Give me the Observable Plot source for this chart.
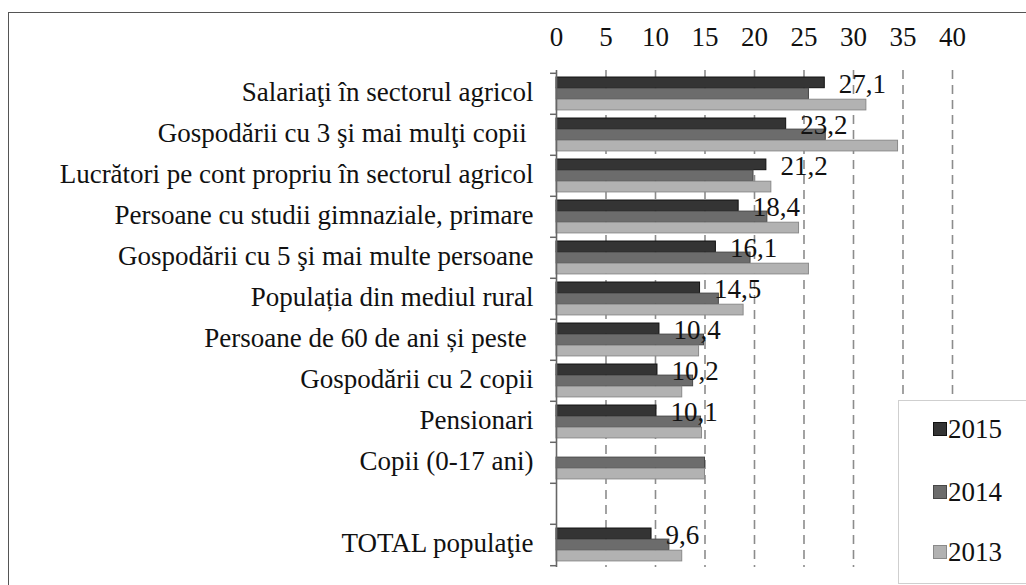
<!DOCTYPE html>
<html><head><meta charset="utf-8">
<script src="https://cdn.jsdelivr.net/npm/d3@7"></script>
<script src="https://cdn.jsdelivr.net/npm/@observablehq/plot@0.6"></script>
<style>
html,body{margin:0;padding:0;background:#fff;}
#wrap{position:relative;width:1026px;height:585px;overflow:hidden;font-family:'Liberation Serif',serif;color:#111;}
#chart{position:absolute;left:0;top:0;}
#chart svg, #chart svg text{font-family:'Liberation Serif',serif !important;}
#chart svg{overflow:visible;background:transparent;}
#frame{position:absolute;left:8px;top:12px;width:1100px;height:700px;border-left:1.5px solid #555;border-top:1.5px solid #555;}
#legend{position:absolute;left:898px;top:400px;width:140px;height:182px;background:#fff;border:1px solid #cfcfcf;font-family:'Liberation Serif',serif;}
.item{position:absolute;left:34px;height:30px;font-size:27px;line-height:30px;display:flex;align-items:center;font-family:'Liberation Serif',serif;color:#111;}
.sw{width:14px;height:14px;margin-right:1px;box-sizing:border-box;}
</style></head>
<body><div id="wrap"><div id="frame"></div><div id="chart"></div><div id="legend"></div></div>
<script>
const categories = [
  "Salariaţi în sectorul agricol",
  "Gospodării cu 3 şi mai mulţi copii\u00a0",
  "Lucrători pe cont propriu în sectorul agricol",
  "Persoane cu studii gimnaziale, primare",
  "Gospodării cu 5 şi mai multe persoane",
  "Populația din mediul rural",
  "Persoane de 60 de ani și peste\u00a0",
  "Gospodării cu 2 copii",
  "Pensionari",
  "Copii (0-17 ani)",
  "\u00a0",
  "TOTAL populaţie"
];
const years = ["2015", "2014", "2013"];
const v2015 = [27.1, 23.2, 21.2, 18.4, 16.1, 14.5, 10.4, 10.2, 10.1, null, null, 9.6];
const v2014 = [25.5, 27.2, 19.9, 21.3, 19.6, 16.4, 14.9, 13.8, 14.6, 15.0, null, 11.4];
const v2013 = [31.3, 34.5, 21.7, 24.5, 25.5, 18.9, 14.4, 12.7, 14.7, 15.0, null, 12.7];
const xTicks = [0, 5, 10, 15, 20, 25, 30, 35, 40];

const fills = {"2015": "#343434", "2014": "#6c6c6c", "2013": "#b2b2b2"};
const strokes = {"2015": "#111", "2014": "#474747", "2013": "#8a8a8a"};

const W = 1026, H = 585, mt = 70, mb = 18, ml = 556, mr = 74;
const step = (H - mt - mb) / categories.length;
const off = step * 0.097, bh = step * 0.268;
const FS = 27;

function rowsOf(vals, year) {
  return categories.map((c, i) => ({category: c, value: vals[i], year})).filter(d => d.value != null);
}
const series = {"2015": rowsOf(v2015, "2015"), "2014": rowsOf(v2014, "2014"), "2013": rowsOf(v2013, "2013")};

const barMarks = years.map((yr, k) => Plot.barX(series[yr], {
  x: "value", y: "category",
  fill: fills[yr], stroke: strokes[yr], strokeWidth: 1,
  insetTop: off + k * bh,
  insetBottom: step - off - (k + 1) * bh
}));

const fmt = v => v.toFixed(1).replace(".", ",");

const chart = Plot.plot({
  width: W, height: H,
  marginTop: mt, marginBottom: mb, marginLeft: ml, marginRight: mr,
  style: "font-family:'Liberation Serif',serif;font-size:27px;color:#111;background:transparent;overflow:visible;",
  x: {domain: [0, 40], label: null},
  y: {domain: categories, padding: 0, label: null},
  marks: [
    Plot.ruleX(xTicks.filter(t => t > 0), {stroke: "#8c8c8c", strokeWidth: 1.6, strokeDasharray: "9,6"}),
    ...barMarks,
    Plot.ruleX([0], {stroke: "#666", strokeWidth: 1.6}),
    Plot.ruleY(categories, {y: d => d, x1: -0.6, x2: 0, dy: -step / 2, stroke: "#666", strokeWidth: 1.5}),
    Plot.ruleY([categories[categories.length - 1]], {y: d => d, x1: -0.6, x2: 0, dy: step / 2, stroke: "#666", strokeWidth: 1.5}),
    Plot.text(series["2015"], {
      x: "value", y: "category", text: d => fmt(d.value),
      dx: 14, dy: -10, textAnchor: "start", fontSize: FS, fill: "#111"
    }),
    Plot.axisX({anchor: "top", ticks: xTicks, tickSize: 0, tickPadding: 25, fontSize: FS, label: null, fill: "#111"}),
    Plot.axisY({tickSize: 0, tickPadding: 23, fontSize: FS, label: null, fill: "#111", dy: -2})
  ]
});
document.getElementById("chart").appendChild(chart);

const legend = document.getElementById("legend");
const centers = {"2015": 29, "2014": 92, "2013": 152};
years.forEach(yr => {
  const it = document.createElement("div");
  it.className = "item";
  it.style.top = (centers[yr] - 16) + "px";
  const sw = document.createElement("span");
  sw.className = "sw";
  sw.style.background = fills[yr];
  sw.style.border = "1px solid " + strokes[yr];
  const tx = document.createElement("span");
  tx.textContent = yr;
  it.appendChild(sw); it.appendChild(tx);
  legend.appendChild(it);
});
</script>
</body></html>
